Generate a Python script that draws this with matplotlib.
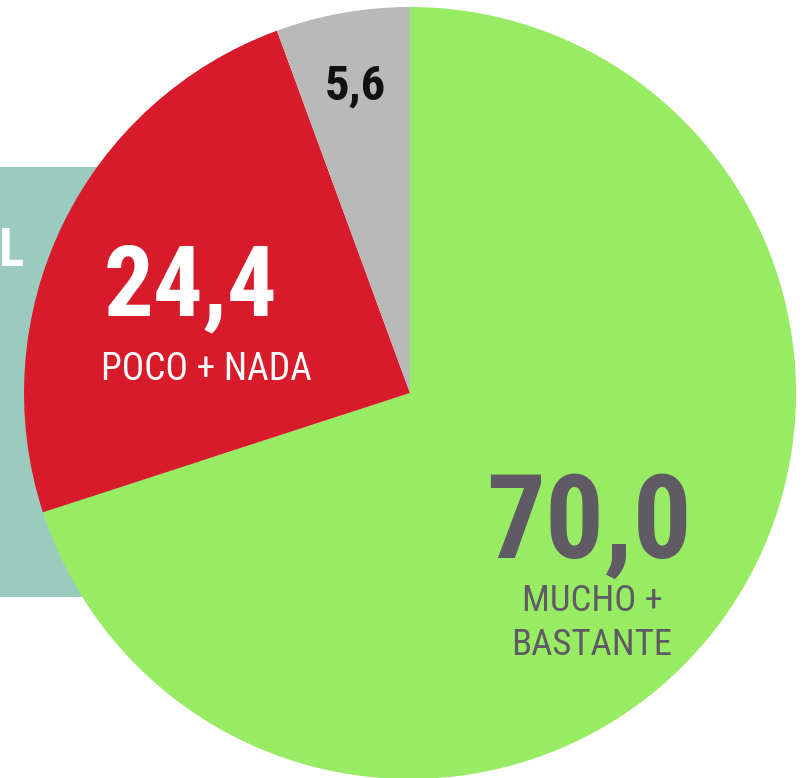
import matplotlib.pyplot as plt
from matplotlib.patches import Rectangle

# datos
categorias = ['MUCHO +\nBASTANTE', 'POCO + NADA', 'NS/NC']
valores = [70.0, 24.4, 5.6]
colores = ['#97EC63', '#D81B2A', '#B9B9B9']
etiquetas = ['70,0', '24,4', '5,6']

W, H = 805, 778
fig = plt.figure(figsize=(W / 100, H / 100), dpi=100)
ax = fig.add_axes([0, 0, 1, 1])

fuente = ['Roboto Condensed', 'DejaVu Sans']

# fondo verde azulado a la izquierda
ax.add_patch(Rectangle((0, H - 597), 200, 430, facecolor='#9BCBBE',
                       edgecolor='none', zorder=0))
ax.text(-1, H - 251, 'L', color='white', fontsize=38, fontweight='bold',
        family=fuente, ha='left', va='center', zorder=1)

ax.pie(valores, colors=colores, startangle=90, counterclock=False,
       center=(410, H - 393), radius=386,
       wedgeprops=dict(linewidth=0, zorder=2))

ax.set_xlim(0, W)
ax.set_ylim(0, H)
ax.set_aspect('equal')
ax.axis('off')

# 70,0
ax.text(589, H - 526, etiquetas[0], color='#5F5A63', fontsize=84,
        fontweight='bold', family=fuente, ha='center', va='center', zorder=3)
ax.text(592, H - 623, categorias[0], color='#5F5A63', fontsize=26.5,
        family=fuente, ha='center', va='center', linespacing=1.3, zorder=3)

# 24,4
ax.text(190, H - 288, etiquetas[1], color='white', fontsize=71,
        fontweight='bold', family=fuente, ha='center', va='center', zorder=3)
ax.text(206, H - 369, categorias[1], color='white', fontsize=27,
        family=fuente, ha='center', va='center', zorder=3)

# 5,6
ax.text(355, H - 86, etiquetas[2], color='#111111', fontsize=35,
        fontweight='bold', family=fuente, ha='center', va='center', zorder=3)

fig.savefig('out.png', dpi=100)
